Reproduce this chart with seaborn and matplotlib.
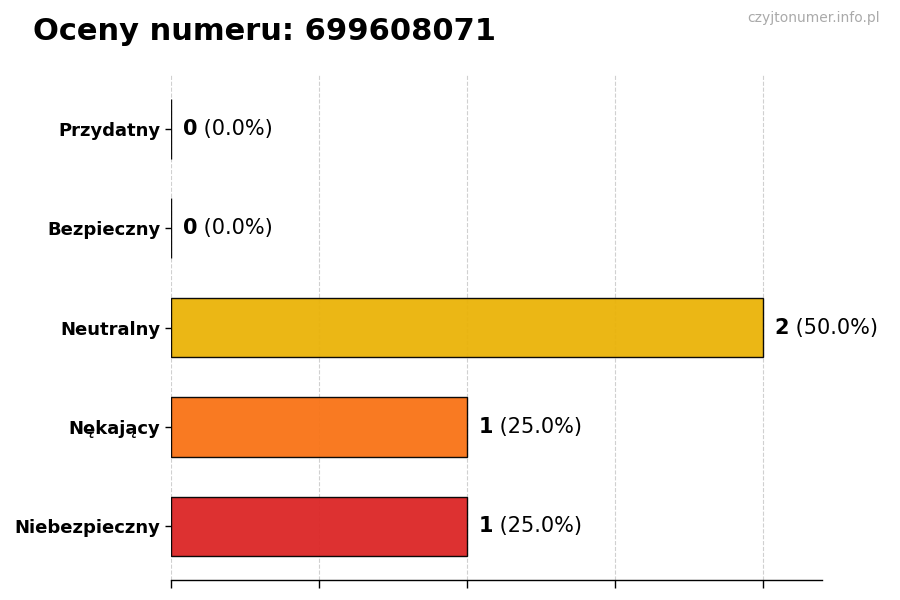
import matplotlib
matplotlib.use("Agg")
import matplotlib.pyplot as plt
import seaborn as sns
import pandas as pd

# data
categories = ['Przydatny', 'Bezpieczny', 'Neutralny', 'Nękający', 'Niebezpieczny']
counts = [0, 0, 2, 1, 1]
colors = ['#3b82f6', '#22c55e', '#eab308', '#f97316', '#dc2626']
number = '699608071'

total = sum(counts)
percents = [c / total * 100 for c in counts]
df = pd.DataFrame({'Kategoria': categories, 'Liczba': counts})

sns.set_style('white')
plt.rcParams['font.family'] = ['DejaVu Sans']
plt.rcParams['text.color'] = 'black'
plt.rcParams['xtick.color'] = 'black'
plt.rcParams['ytick.color'] = 'black'
plt.rcParams['xtick.bottom'] = True
plt.rcParams['ytick.left'] = True

fig, ax = plt.subplots(figsize=(9, 6), dpi=100)
fig.subplots_adjust(left=0.19, right=0.913, top=0.875, bottom=0.033)

sns.barplot(data=df, x='Liczba', y='Kategoria', hue='Kategoria', order=categories,
            palette=colors, saturation=1, legend=False, orient='h', width=0.6,
            edgecolor='black', linewidth=1, alpha=0.95, ax=ax)

ax.set_xlim(0, 2.2)
ax.set_ylim(4.54, -0.54)
ax.set_xticks([0, 0.5, 1, 1.5, 2])
ax.set_xticklabels([])
ax.tick_params(axis='x', length=6, width=1, colors='black', bottom=True)
ax.tick_params(axis='y', length=4, width=1, left=True)
ax.grid(axis='x', linestyle='--', color='#d0d0d0', linewidth=0.8)
ax.set_axisbelow(True)
for lbl in ax.get_yticklabels():
    lbl.set_fontweight('bold')
    lbl.set_fontsize(13)
    lbl.set_color('black')
ax.set_xlabel('')
ax.set_ylabel('')
sns.despine(ax=ax, left=True, top=True, right=True)
ax.spines['bottom'].set_color('black')
ax.spines['bottom'].set_linewidth(1)

# value labels
for i, (c, p) in enumerate(zip(counts, percents)):
    t = ax.text(c + 0.04, i, f'{c}', fontsize=15, fontweight='bold', va='center', ha='left')
    ax.annotate(f' ({p:.1f}%)', xy=(1, 0.5), xycoords=t, va='center', ha='left', fontsize=15)

fig.text(0.037, 0.947, f'Oceny numeru: {number}', fontsize=22, fontweight='bold', va='center', ha='left')
fig.text(0.978, 0.970, 'czyjtonumer.info.pl', fontsize=10, color='#aaaaaa', va='center', ha='right')

plt.savefig('out.png', dpi=100)
